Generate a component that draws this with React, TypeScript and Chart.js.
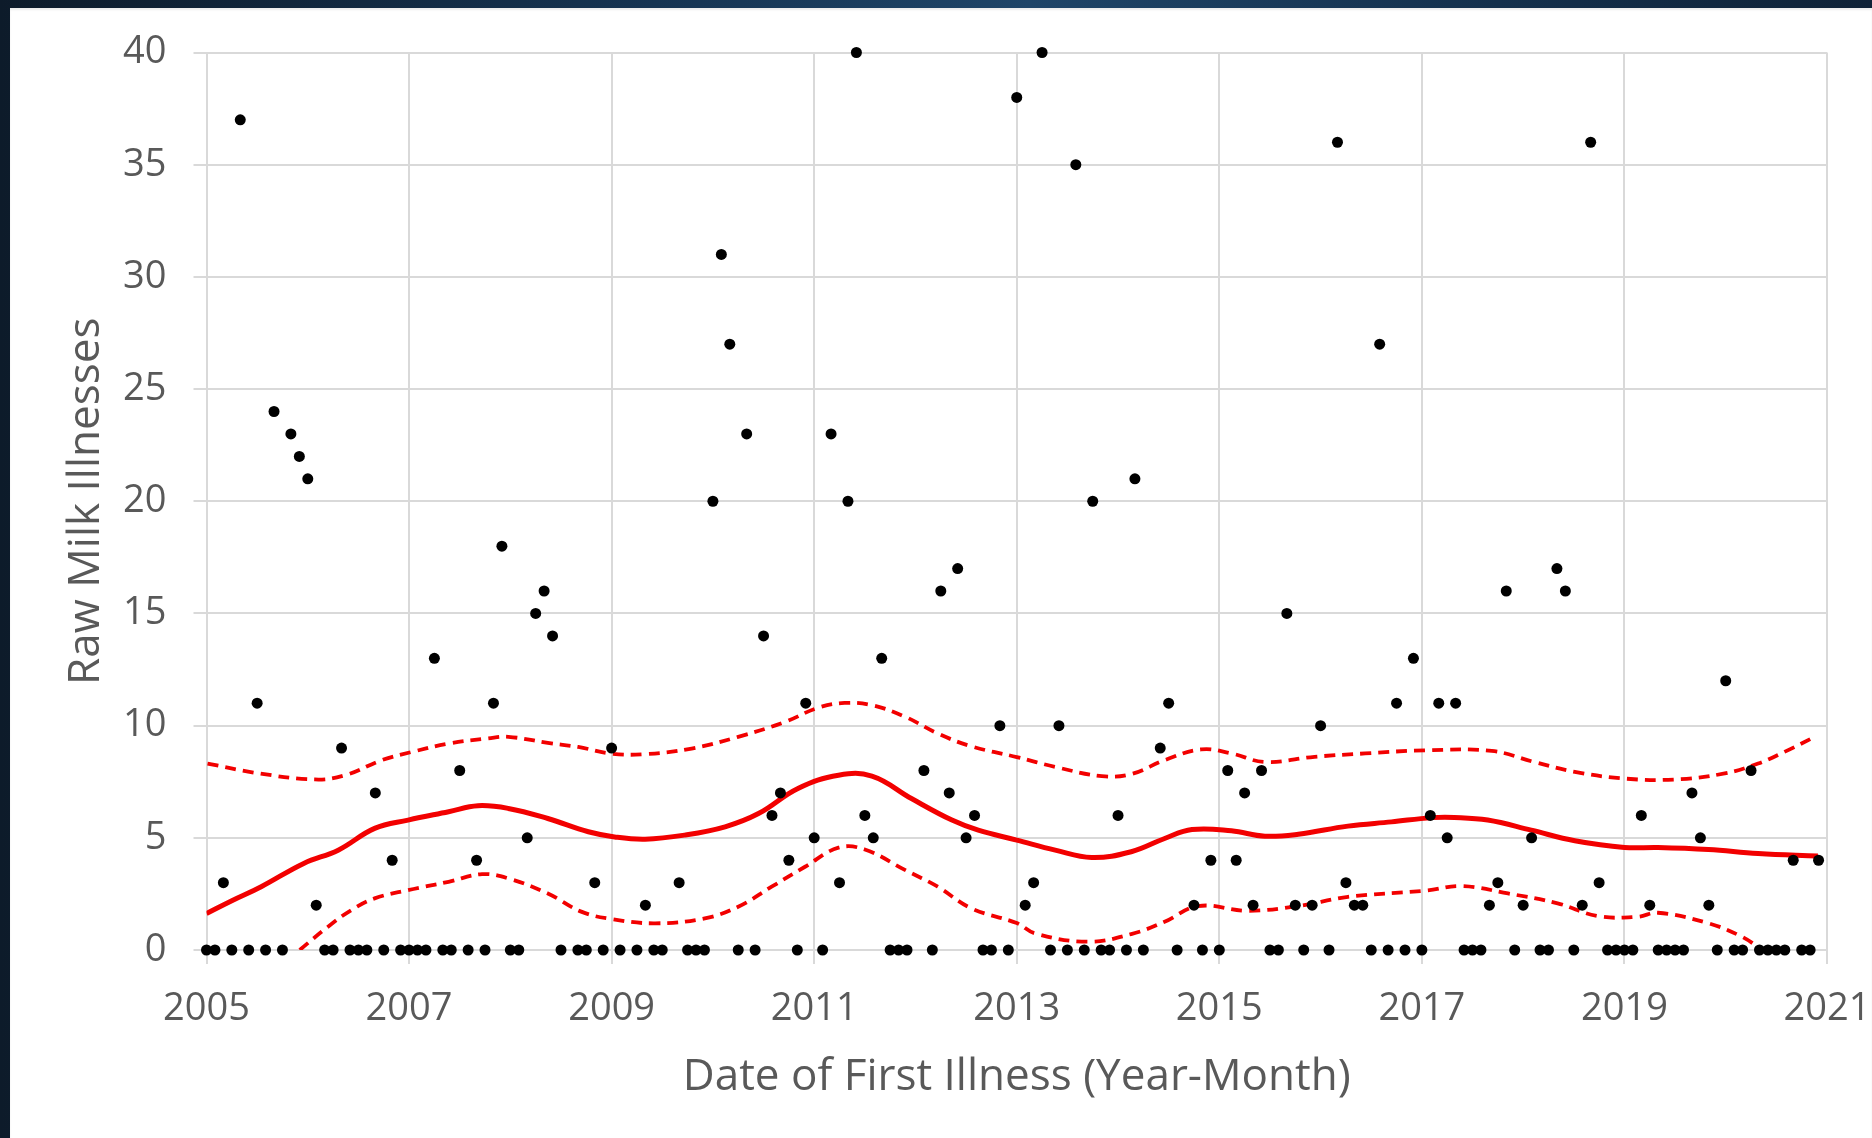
import React, { useEffect, useRef } from "react";
import { Chart, registerables } from "chart.js";

Chart.register(...registerables);

// Monthly raw milk illnesses, January 2005 through December 2020 (null = no record)
const START_YEAR = 2005;
const illnesses: (number | null)[] = [
  // 2005
  0, 0, 3, 0, 37, 0, 11, 0, 24, 0, 23, 22,
  // 2006
  21, 2, 0, 0, 9, 0, 0, 0, 7, 0, 4, 0,
  // 2007
  0, 0, 0, 13, 0, 0, 8, 0, 4, 0, 11, 18,
  // 2008
  0, 0, 5, 15, 16, 14, 0, null, 0, 0, 3, 0,
  // 2009
  9, 0, null, 0, 2, 0, 0, null, 3, 0, 0, 0,
  // 2010
  20, 31, 27, 0, 23, 0, 14, 6, 7, 4, 0, 11,
  // 2011
  5, 0, 23, 3, 20, 40, 6, 5, 13, 0, 0, 0,
  // 2012
  null, 8, 0, 16, 7, 17, 5, 6, 0, 0, 10, 0,
  // 2013
  38, 2, 3, 40, 0, 10, 0, 35, 0, 20, 0, 0,
  // 2014
  6, 0, 21, 0, null, 9, 11, 0, null, 2, 0, 4,
  // 2015
  0, 8, 4, 7, 2, 8, 0, 0, 15, 2, 0, 2,
  // 2016
  10, 0, 36, 3, 2, 2, 0, 27, 0, 11, 0, 13,
  // 2017
  0, 6, 11, 5, 11, 0, 0, 0, 2, 3, 16, 0,
  // 2018
  2, 5, 0, 0, 17, 16, 0, 2, 36, 3, 0, 0,
  // 2019
  0, 0, 6, 2, 0, 0, 0, 0, 7, 5, 2, 0,
  // 2020
  12, 0, 0, 8, 0, 0, 0, 0, 4, 0, 0, 4,
];

// Smoothed trend (solid line)
const trendYears = [
  2005.0, 2005.25, 2005.54, 2005.96, 2006.3, 2006.66, 2006.99, 2007.39, 2007.68, 2007.98,
  2008.37, 2008.77, 2009.03, 2009.33, 2009.72, 2010.12, 2010.45, 2010.84, 2011.24, 2011.57,
  2011.96, 2012.36, 2012.62, 2013.0, 2013.38, 2013.74, 2014.13, 2014.46, 2014.73, 2015.12,
  2015.45, 2015.78, 2016.27, 2016.7, 2017.1, 2017.32, 2017.65, 2018.08, 2018.51, 2019.0,
  2019.33, 2019.83, 2020.32, 2020.91,
];
const trendValues = [
  1.63, 2.2, 2.82, 3.86, 4.45, 5.42, 5.79, 6.16, 6.43, 6.31,
  5.86, 5.27, 5.04, 4.94, 5.12, 5.49, 6.08, 7.2, 7.79, 7.75,
  6.75, 5.79, 5.34, 4.9, 4.45, 4.12, 4.38, 4.97, 5.37, 5.31,
  5.07, 5.16, 5.52, 5.71, 5.9, 5.91, 5.79, 5.34, 4.87, 4.57,
  4.57, 4.48, 4.3, 4.19,
];

// Upper confidence bound (dashed)
const upperYears = [
  2005.01, 2005.48, 2006.07, 2006.37, 2006.73, 2007.03, 2007.39, 2007.78, 2007.98, 2008.37,
  2008.67, 2009.0, 2009.33, 2009.79, 2010.25, 2010.71, 2011.04, 2011.3, 2011.57, 2011.9,
  2012.22, 2012.55, 2013.0, 2013.38, 2013.84, 2014.13, 2014.46, 2014.82, 2015.12, 2015.45,
  2015.94, 2016.44, 2017.05, 2017.69, 2018.11, 2018.51, 2019.0, 2019.5, 2019.99, 2020.32,
  2020.58, 2020.88,
];
const upperValues = [
  8.31, 7.9, 7.6, 7.79, 8.46, 8.83, 9.2, 9.43, 9.5, 9.23,
  9.05, 8.75, 8.73, 8.98, 9.5, 10.16, 10.8, 11.01, 10.91, 10.39,
  9.65, 9.08, 8.6, 8.16, 7.75, 7.84, 8.46, 8.94, 8.76, 8.38,
  8.61, 8.76, 8.9, 8.87, 8.38, 7.94, 7.64, 7.6, 7.87, 8.31,
  8.83, 9.5,
];

// Lower confidence bound (dashed)
const lowerYears = [
  2005.92, 2006.2, 2006.43, 2006.66, 2006.99, 2007.39, 2007.72, 2007.98, 2008.37, 2008.7,
  2009.0, 2009.43, 2009.92, 2010.25, 2010.58, 2010.91, 2011.24, 2011.5, 2011.9, 2012.22,
  2012.55, 2013.0, 2013.18, 2013.7, 2014.13, 2014.46, 2014.79, 2015.28, 2015.78, 2016.27,
  2017.05, 2017.39, 2017.85, 2018.34, 2018.74, 2019.13, 2019.33, 2019.83, 2020.16, 2020.36,
];
const lowerValues = [
  0, 1.04, 1.78, 2.3, 2.67, 3.04, 3.38, 3.19, 2.52, 1.71,
  1.38, 1.19, 1.41, 1.93, 2.82, 3.71, 4.56, 4.48, 3.56, 2.82,
  1.86, 1.2, 0.74, 0.37, 0.71, 1.26, 1.96, 1.75, 1.96, 2.37,
  2.65, 2.85, 2.52, 2.08, 1.51, 1.48, 1.66, 1.19, 0.59, 0,
];

const X_MIN = 2005;
const X_MAX = 2021;
const X_STEP = 2;
const Y_MIN = 0;
const Y_MAX = 40;
const Y_STEP = 5;

const X_TITLE = "Date of First Illness (Year-Month)";
const Y_TITLE = "Raw Milk Illnesses";

const RED = "#f20000";
const GRID = "#d9d9d9";
const TEXT = "#595959";
const FONT = "'Open Sans', 'Noto Sans', sans-serif";

const PANEL_W = 1862;
const PANEL_H = 1130;

const pairs = (xs: number[], ys: number[]) => xs.map((x, i) => ({ x, y: ys[i] }));

export default function App() {
  const canvasRef = useRef<HTMLCanvasElement>(null);

  useEffect(() => {
    const canvas = canvasRef.current;
    if (!canvas) return;

    const monthly = illnesses
      .map((v, i) => (v === null ? null : { x: START_YEAR + i / 12, y: v }))
      .filter((p): p is { x: number; y: number } => p !== null);

    const dashed = {
      showLine: true,
      borderColor: RED,
      borderWidth: 3.8,
      borderDash: [11, 7],
      pointRadius: 0,
      tension: 0.4,
    };

    const chart = new Chart(canvas, {
      type: "scatter",
      data: {
        datasets: [
          {
            label: "Illnesses",
            data: monthly,
            showLine: false,
            pointRadius: 5.5,
            pointHoverRadius: 5.5,
            pointBackgroundColor: "#000000",
            pointBorderWidth: 0,
            clip: false,
          } as any,
          {
            label: "Trend",
            data: pairs(trendYears, trendValues),
            showLine: true,
            borderColor: RED,
            borderWidth: 5,
            pointRadius: 0,
            tension: 0.4,
          },
          { label: "Upper bound", data: pairs(upperYears, upperValues), ...dashed },
          { label: "Lower bound", data: pairs(lowerYears, lowerValues), ...dashed },
        ],
      },
      options: {
        animation: false,
        responsive: false,
        devicePixelRatio: 1,
        events: [],
        layout: { padding: { top: 44.5, right: 45, bottom: 0, left: 0 } },
        plugins: {
          legend: { display: false },
          tooltip: { enabled: false },
        },
        scales: {
          x: {
            type: "linear",
            min: X_MIN,
            max: X_MAX,
            ticks: {
              stepSize: X_STEP,
              callback: (v: any) => String(v),
              color: TEXT,
              font: { family: FONT, size: 38 },
              padding: 22,
              maxRotation: 0,
            },
            grid: { color: GRID, lineWidth: 2, tickLength: 14 },
            border: { color: GRID, width: 2 },
            title: {
              display: true,
              text: X_TITLE,
              color: TEXT,
              font: { family: FONT, size: 44 },
              padding: { top: 0, bottom: 34 },
            },
            afterFit: (scale: any) => {
              scale.height = 188;
              scale.paddingLeft = 0;
              scale.paddingRight = 0;
            },
          },
          y: {
            type: "linear",
            min: Y_MIN,
            max: Y_MAX,
            ticks: {
              stepSize: Y_STEP,
              color: TEXT,
              font: { family: FONT, size: 38 },
              padding: 27,
            },
            grid: { color: GRID, lineWidth: 2, tickLength: 13 },
            border: { color: GRID, width: 2 },
            title: {
              display: true,
              text: Y_TITLE,
              color: TEXT,
              font: { family: FONT, size: 44 },
              padding: { top: 50, bottom: 0 },
            },
            afterFit: (scale: any) => {
              scale.width = 196.5;
              scale.paddingTop = 0;
              scale.paddingBottom = 0;
            },
          },
        },
      } as any,
    });

    return () => chart.destroy();
  }, []);

  return (
    <div
      style={{
        position: "fixed",
        left: 0,
        top: 0,
        width: 1872,
        height: 1138,
        overflow: "hidden",
        background: "linear-gradient(90deg, #0d1b2a 0%, #163452 35%, #1f4568 55%, #14304c 80%, #0f2237 100%)",
      }}
    >
      <div
        style={{
          position: "absolute",
          left: 10,
          top: 8,
          width: PANEL_W,
          height: PANEL_H,
          background: "#ffffff",
          boxShadow: "inset 0 2px 2px rgba(0,0,0,0.08)",
        }}
      >
        <canvas
          ref={canvasRef}
          width={PANEL_W}
          height={PANEL_H}
          style={{ display: "block", width: PANEL_W, height: PANEL_H }}
        />
      </div>
    </div>
  );
}
